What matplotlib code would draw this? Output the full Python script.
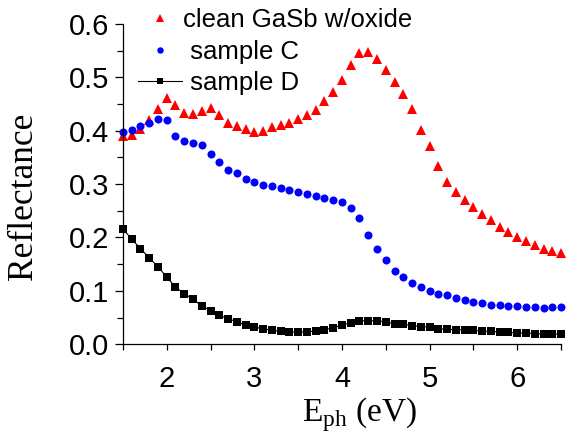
import numpy as np
import matplotlib
matplotlib.use("Agg")
import matplotlib.pyplot as plt
from matplotlib.ticker import MultipleLocator, FormatStrFormatter

plt.rcParams["mathtext.fontset"] = "custom"
plt.rcParams["mathtext.rm"] = "Liberation Serif"

energy = [round(1.5 + 0.1 * i, 1) for i in range(51)]

clean_gasb = [0.389, 0.391, 0.403, 0.419, 0.440, 0.462, 0.448, 0.433, 0.431, 0.436,
              0.442, 0.430, 0.415, 0.409, 0.403, 0.397, 0.400, 0.407, 0.411, 0.414,
              0.422, 0.429, 0.438, 0.455, 0.472, 0.494, 0.523, 0.545, 0.548, 0.535,
              0.514, 0.491, 0.469, 0.440, 0.402, 0.372, 0.333, 0.303, 0.286, 0.270,
              0.257, 0.243, 0.232, 0.219, 0.211, 0.201, 0.194, 0.185, 0.179, 0.174,
              0.171]

sample_c = [0.398, 0.402, 0.408, 0.414, 0.421, 0.419, 0.389, 0.381, 0.377, 0.373,
            0.357, 0.341, 0.326, 0.320, 0.310, 0.304, 0.299, 0.297, 0.293, 0.288,
            0.285, 0.281, 0.278, 0.273, 0.271, 0.266, 0.255, 0.236, 0.204, 0.179,
            0.158, 0.137, 0.126, 0.114, 0.108, 0.100, 0.095, 0.092, 0.087, 0.082,
            0.079, 0.077, 0.074, 0.073, 0.072, 0.071, 0.070, 0.069, 0.068, 0.069,
            0.070]

sample_d = [0.216, 0.197, 0.179, 0.162, 0.145, 0.126, 0.107, 0.095, 0.084, 0.072,
            0.063, 0.054, 0.048, 0.042, 0.036, 0.032, 0.029, 0.026, 0.024, 0.023,
            0.023, 0.023, 0.025, 0.027, 0.031, 0.036, 0.040, 0.044, 0.044, 0.044,
            0.042, 0.038, 0.037, 0.035, 0.033, 0.032, 0.029, 0.028, 0.027, 0.027,
            0.026, 0.025, 0.024, 0.023, 0.022, 0.021, 0.021, 0.020, 0.019, 0.019,
            0.019]

labels = ["clean GaSb w/oxide", " sample C", " sample D"]

fig = plt.figure(figsize=(5.69, 4.33), dpi=100)
ax = fig.add_axes([0.216, 0.205, 0.770, 0.740])

ax.plot(energy, clean_gasb, linestyle="none", marker="^", color="red",
        markersize=6.8, markeredgewidth=0, clip_on=False, label=labels[0])
ax.plot(energy, sample_c, linestyle="none", marker="o", color="blue",
        markersize=5.8, markeredgewidth=0, clip_on=False, label=labels[1])
ax.plot(energy, sample_d, linestyle="-", linewidth=0.8, marker="s", color="black",
        markersize=5.2, markeredgewidth=0, clip_on=False, label=labels[2])

ax.set_xlim(1.5, 6.5)
ax.set_ylim(0.0, 0.6)
ax.xaxis.set_major_locator(MultipleLocator(1))
ax.xaxis.set_minor_locator(MultipleLocator(0.5))
ax.yaxis.set_major_locator(MultipleLocator(0.1))
ax.yaxis.set_minor_locator(MultipleLocator(0.05))
ax.yaxis.set_major_formatter(FormatStrFormatter("%.1f"))

for s in ["top", "right"]:
    ax.spines[s].set_visible(False)
for s in ["left", "bottom"]:
    ax.spines[s].set_linewidth(0.9)

ax.tick_params(axis="both", which="both", direction="out", width=0.9)
ax.tick_params(axis="y", which="major", length=6, pad=4)
ax.tick_params(axis="y", which="minor", length=4)
ax.tick_params(axis="x", which="major", length=4, pad=11)
ax.tick_params(axis="x", which="minor", length=4)
for lab in ax.get_xticklabels() + ax.get_yticklabels():
    lab.set_fontfamily("Liberation Sans")
    lab.set_fontsize(21)

ax.set_ylabel("Reflectance", fontfamily="Liberation Serif", fontsize=25.5)
ax.yaxis.set_label_coords(-0.19, 0.462)
ax.set_xlabel(r"E$_{\mathregular{ph}}$ (eV)", fontfamily="Liberation Serif", fontsize=24)
ax.xaxis.set_label_coords(0.539, -0.158)

leg = ax.legend(loc="upper left", bbox_to_anchor=(0.242, 0.982), bbox_transform=fig.transFigure,
                frameon=False, borderpad=0.0, borderaxespad=0.0, handlelength=1.72,
                handletextpad=0.04, labelspacing=0.3, markerscale=0.8,
                prop={"family": "Liberation Sans", "size": 18.5})

fig.savefig("out.png", dpi=100)
